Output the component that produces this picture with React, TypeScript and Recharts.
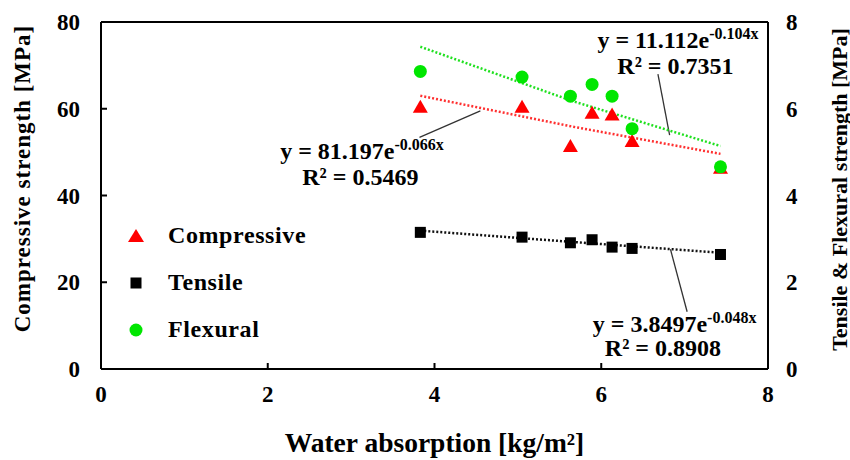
import React from 'react';
import {
  ComposedChart,
  Scatter,
  XAxis,
  YAxis,
  ReferenceLine,
  ReferenceDot,
  Legend,
} from 'recharts';

// ---- data ----
const waterAbsorption = [3.83, 5.05, 5.63, 5.89, 6.13, 6.37, 7.43];
const compressive = [60.3, 60.3, 51.2, 58.9, 58.5, 52.4, 46.2];
const tensile = [3.15, 3.04, 2.91, 2.98, 2.81, 2.78, 2.64];
const flexural = [6.86, 6.73, 6.29, 6.56, 6.29, 5.54, 4.66];

const trendX = [3.83, 5.65, 7.43];
const compressiveTrend = [63.0, 55.9, 49.6];
const tensileTrend = [3.19, 2.93, 2.68];
const flexuralTrend = [7.43, 6.18, 5.14];

const xTicks = [0, 2, 4, 6, 8];
const leftTicks = [0, 20, 40, 60, 80];
const rightTicks = [0, 2, 4, 6, 8];

const seriesNames = ['Compressive', 'Tensile', 'Flexural'];
const xTitle = 'Water absorption [kg/m²]';
const leftTitle = 'Compressive strength [MPa]';
const rightTitle = 'Tensile & Flexural strength [MPa]';

// equation annotations (anchor in data coords, left axis)
const annotations = [
  { x: 3.13, y: 48.4, base: 'y = 81.197e', sup: '-0.066x' },
  { x: 3.11, y: 42.4, base: 'R² = 0.5469', sup: '' },
  { x: 6.92, y: 74.0, base: 'y = 11.112e', sup: '-0.104x' },
  { x: 6.89, y: 68.0, base: 'R² = 0.7351', sup: '' },
  { x: 6.88, y: 8.5, base: 'y = 3.8497e', sup: '-0.048x' },
  { x: 6.74, y: 3.0, base: 'R² = 0.8908', sup: '' },
];

const leaders = [
  [{ x: 4.55, y: 59.5 }, { x: 3.82, y: 53.4 }],
  [{ x: 6.68, y: 68.0 }, { x: 6.82, y: 53.9 }],
  [{ x: 6.83, y: 27.6 }, { x: 7.03, y: 13.2 }],
];

const toPts = (xs: number[], ys: number[]) => xs.map((x, i) => ({ x, y: ys[i] }));

const RED = '#ff0000';
const GREEN = '#00e600';
const BLACK = '#000000';
const FONT = 'Liberation Serif, serif';

const Triangle = (p: any) => {
  const { cx, cy } = p;
  const w = 15, h = 13;
  return (
    <polygon
      points={`${cx},${cy - h * 0.6} ${cx - w / 2},${cy + h * 0.4} ${cx + w / 2},${cy + h * 0.4}`}
      fill={RED}
    />
  );
};
const Square = (p: any) => {
  const { cx, cy } = p;
  const s = 11;
  return <rect x={cx - s / 2} y={cy - s / 2} width={s} height={s} fill={BLACK} />;
};
const Dot = (p: any) => {
  const { cx, cy } = p;
  return <circle cx={cx} cy={cy} r={6.5} fill={GREEN} />;
};
const NoShape = () => <g />;

const LegendContent = () => {
  const rows = [
    { name: seriesNames[0], m: <polygon points="10,3 2,16 18,16" fill={RED} /> },
    { name: seriesNames[1], m: <rect x={4.5} y={4.5} width={11} height={11} fill={BLACK} /> },
    { name: seriesNames[2], m: <circle cx={10} cy={10} r={6.5} fill={GREEN} /> },
  ];
  return (
    <div style={{ fontFamily: FONT, fontWeight: 'bold', fontSize: 24, letterSpacing: 0.6 }}>
      {rows.map((r) => (
        <div key={r.name} style={{ display: 'flex', alignItems: 'center', height: 47 }}>
          <svg width={20} height={20} style={{ marginRight: 22 }}>
            {r.m}
          </svg>
          <span>{r.name}</span>
        </div>
      ))}
    </div>
  );
};

const AnnoShape = (a: { base: string; sup: string }) => (p: any) => (
  <text
    x={p.cx}
    y={p.cy}
    textAnchor="middle"
    fontFamily={FONT}
    fontWeight="bold"
    fontSize={24}
    fill="#000"
  >
    {a.base}
    {a.sup ? (
      <tspan dy={-9} fontSize={16}>
        {a.sup}
      </tspan>
    ) : null}
  </text>
);

const LeftTitle = (props: any) => {
  const vb = props.viewBox || {};
  const x = vb.x + 21;
  const y = vb.y + vb.height / 2 - 17;
  return (
    <text
      x={x}
      y={y}
      transform={`rotate(-90 ${x} ${y})`}
      textAnchor="middle"
      dominantBaseline="central"
      fontFamily={FONT}
      fontWeight="bold"
      fontSize={23}
      letterSpacing={1}
      fill="#000"
    >
      {leftTitle}
    </text>
  );
};

const RightTitle = (props: any) => {
  const vb = props.viewBox || {};
  const x = vb.x + vb.width - 11;
  const y = vb.y + vb.height / 2 - 6;
  return (
    <text
      x={x}
      y={y}
      transform={`rotate(-90 ${x} ${y})`}
      textAnchor="middle"
      dominantBaseline="central"
      fontFamily={FONT}
      fontWeight="bold"
      fontSize={22}
      fill="#000"
    >
      {rightTitle}
    </text>
  );
};

const tickStyle = { fontFamily: FONT, fontWeight: 'bold' as const, fontSize: 23, fill: '#000' };

export default function App() {
  return (
    <div
      style={{
        position: 'absolute',
        left: 0,
        top: 0,
        width: 850,
        height: 460,
        background: '#fff',
        fontFamily: FONT,
      }}
    >
      <ComposedChart
        width={850}
        height={460}
        margin={{ top: 22, right: 0, bottom: 11, left: 1 }}
      >
        <XAxis
          type="number"
          dataKey="x"
          domain={[0, 8]}
          ticks={xTicks}
          allowDataOverflow
          height={80}
          tickSize={-6}
          tickMargin={23}
          tick={tickStyle}
          axisLine={{ stroke: '#000', strokeWidth: 2 }}
          tickLine={{ stroke: '#000', strokeWidth: 2 }}
          label={{
            value: xTitle,
            position: 'insideBottom',
            offset: -3,
            style: { fontFamily: FONT, fontWeight: 'bold', fontSize: 27.5, fill: '#000' },
          }}
        />
        <YAxis
          yAxisId="left"
          type="number"
          dataKey="y"
          domain={[0, 80]}
          ticks={leftTicks}
          allowDataOverflow
          width={100}
          tickSize={-6}
          tickMargin={27}
          tick={tickStyle}
          axisLine={{ stroke: '#000', strokeWidth: 2 }}
          tickLine={{ stroke: '#000', strokeWidth: 2 }}
          label={LeftTitle}
        />
        <YAxis
          yAxisId="right"
          orientation="right"
          type="number"
          dataKey="y"
          domain={[0, 8]}
          ticks={rightTicks}
          allowDataOverflow
          width={82}
          tickLine={false}
          tickMargin={12}
          tick={tickStyle}
          axisLine={{ stroke: '#000', strokeWidth: 2 }}
          label={RightTitle}
        />
        <ReferenceLine yAxisId="left" y={80} stroke="#000" strokeWidth={2} />

        {/* trend lines */}
        <Scatter
          yAxisId="left"
          data={toPts(trendX, compressiveTrend)}
          line={{ stroke: '#ff3030', strokeWidth: 2.5, strokeDasharray: '2 2' }}
          shape={NoShape}
          isAnimationActive={false}
          legendType="none"
        />
        <Scatter
          yAxisId="right"
          data={toPts(trendX, flexuralTrend)}
          line={{ stroke: '#20e020', strokeWidth: 2.5, strokeDasharray: '2 2' }}
          shape={NoShape}
          isAnimationActive={false}
          legendType="none"
        />
        <Scatter
          yAxisId="right"
          data={toPts(trendX, tensileTrend)}
          line={{ stroke: '#111', strokeWidth: 2.5, strokeDasharray: '2 2' }}
          shape={NoShape}
          isAnimationActive={false}
          legendType="none"
        />

        {leaders.map((seg, i) => (
          <ReferenceLine
            key={'l' + i}
            yAxisId="left"
            segment={seg}
            stroke="#333"
            strokeWidth={1.3}
          />
        ))}

        {/* data points */}
        <Scatter
          name={seriesNames[0]}
          yAxisId="left"
          data={toPts(waterAbsorption, compressive)}
          shape={Triangle}
          isAnimationActive={false}
        />
        <Scatter
          name={seriesNames[1]}
          yAxisId="right"
          data={toPts(waterAbsorption, tensile)}
          shape={Square}
          isAnimationActive={false}
        />
        <Scatter
          name={seriesNames[2]}
          yAxisId="right"
          data={toPts(waterAbsorption, flexural)}
          shape={Dot}
          isAnimationActive={false}
        />

        {annotations.map((a, i) => (
          <ReferenceDot
            key={'a' + i}
            yAxisId="left"
            x={a.x}
            y={a.y}
            r={0}
            shape={AnnoShape(a)}
          />
        ))}

        <Legend
          layout="vertical"
          align="center"
          verticalAlign="middle"
          content={LegendContent}
          wrapperStyle={{ left: 126, top: 212, width: 220 }}
        />
      </ComposedChart>
    </div>
  );
}
